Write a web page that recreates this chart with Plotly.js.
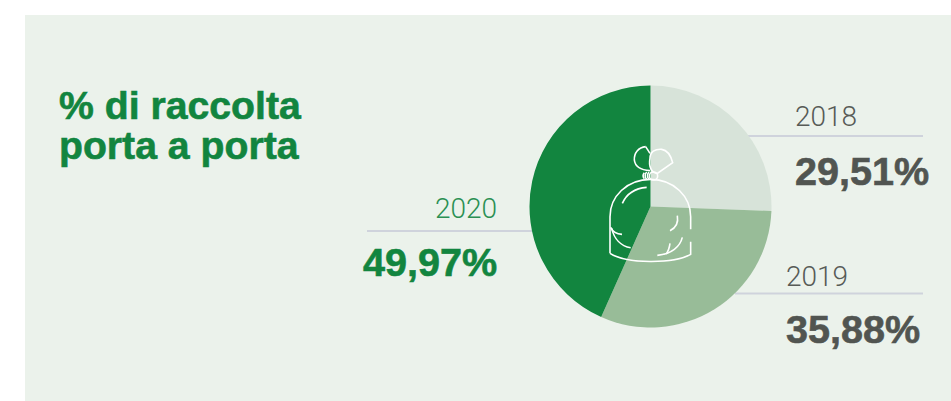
<!DOCTYPE html>
<html>
<head>
<meta charset="utf-8">
<script src="https://cdn.plot.ly/plotly-3.0.1.min.js"></script>
<style>html,body{margin:0;padding:0;background:#fff}#chart{width:951px;height:401px}</style>
</head>
<body>
<div id="chart"></div>
<script>
// Door-to-door collection share by year
const years = ['2018', '2019', '2020'];
const shares = [29.51, 35.88, 49.97];
const sliceColors = ['#D7E3D9', '#98BC98', '#12853F'];
const titleLines = ['% di raccolta', 'porta a porta'];

const W = 951, H = 401;
const PANEL = '#EBF2EB', RULE = '#CFD3DC', GREEN = '#12853F', DARK = '#515551', GREY = '#575B57';
const px = x => x / W;
const py = y => 1 - y / H;

const fmt = v => v.toFixed(2).replace('.', ',') + '%';

// Text placed at a pixel position; anchor "left" or "right", centred vertically on y
function label(text, x, y, size, color, anchor, family, weight) {
  return {
    text, xref: 'paper', yref: 'paper', x: px(x), y: py(y),
    xanchor: anchor, yanchor: 'middle', showarrow: false, borderpad: 0, borderwidth: 0,
    font: {family, size, color, weight}
  };
}
const BOLD = 'Liberation Sans, Arial, sans-serif';
const LIGHT = 'Roboto, Liberation Sans, sans-serif';

const annotations = [
  label(titleLines[0], 59, 105, 39.2, GREEN, 'left', BOLD, 700),
  label(titleLines[1], 59, 145, 39.2, GREEN, 'left', BOLD, 700),
  label(years[0], 795, 117, 28, GREY, 'left', LIGHT, 300),
  label(fmt(shares[0]), 795, 171, 39.6, DARK, 'left', BOLD, 700),
  label(years[1], 786, 276, 28, GREY, 'left', LIGHT, 300),
  label(fmt(shares[1]), 786, 329, 39.6, DARK, 'left', BOLD, 700),
  label(years[2], 497, 209, 28, '#2A9053', 'right', LIGHT, 300),
  label(fmt(shares[2]), 497, 262, 39.6, GREEN, 'right', BOLD, 700)
];

function rule(x0, x1, y) {
  return {type: 'line', xref: 'paper', yref: 'paper', layer: 'below',
    x0: px(x0), x1: px(x1), y0: py(y), y1: py(y), line: {color: RULE, width: 2.2}};
}

// Waste-bag pictogram, drawn in a local 3x grid anchored at (600,140)
const bagPaths = [
  'M30 340 L30 230 C30 170 80 118 152 118 C222 118 272 170 272 230 L272 268',
  'M272 305 L272 343 C220 372 80 372 30 340',
  'M67 190 C80 160 105 145 140 142',
  'M32 262 C38 275 50 282 66 283',
  'M35 265 C42 295 62 318 92 323',
  'M232 227 C236 250 225 265 210 272',
  'M247 292 C240 320 215 342 172 346',
  'M210 310 C208 325 204 335 198 342',
  'M137 20 C115 22 102 40 103 60 C105 78 122 90 150 92',
  'M137 20 L150 40',
  'M150 55 C150 35 165 27 185 28 C200 30 212 45 218 68 L172 100 C155 100 145 80 150 55 Z',
  'M148 108 C148 101 154 96 160 96 C167 96 173 101 173 108 C173 115 167 120 160 120 C154 120 148 115 148 108 Z',
  'M140 118 C134 112 134 102 140 96',
  'M147 118 C141 112 141 102 147 96',
  'M133 116 C128 110 128 104 133 98'
];
const toPaper = p => p.replace(/(-?[\d.]+) (-?[\d.]+)/g, (m, a, b) =>
  px(600 + a / 3).toFixed(5) + ' ' + py(140 + b / 3).toFixed(5)).replace(/([MLC])/g, '$1 ');
const bagShapes = bagPaths.map(p => ({
  type: 'path', xref: 'paper', yref: 'paper', layer: 'above',
  path: toPaper(p), line: {color: '#FFFFFF', width: 1.6}
}));

const panel = {type: 'rect', xref: 'paper', yref: 'paper', layer: 'below',
  x0: px(25), x1: 1, y0: 0, y1: py(15), fillcolor: PANEL, line: {width: 0}};

Plotly.newPlot('chart', [{
  type: 'pie',
  labels: years,
  values: shares,
  sort: false,
  direction: 'clockwise',
  rotation: 0,
  textinfo: 'none',
  hoverinfo: 'label+percent',
  marker: {colors: sliceColors, line: {width: 0}},
  domain: {x: [px(529.5), px(771.5)], y: [py(327.5), py(85.5)]},
  showlegend: false
}], {
  width: W, height: H,
  margin: {l: 0, r: 0, t: 0, b: 0},
  paper_bgcolor: '#FFFFFF',
  showlegend: false,
  shapes: [panel, rule(748, 923, 136), rule(735, 923, 293.5), rule(367, 532, 231), ...bagShapes],
  annotations
}, {displayModeBar: false, staticPlot: true}).then(() => {
  // Thicken the bold labels slightly for a heavier display weight
  document.querySelectorAll('.annotation-text').forEach(el => {
    if (String(el.style.fontWeight) === '700') {
      el.style.stroke = el.style.fill;
      el.style.strokeWidth = '0.6px';
    }
  });
});
</script>
</body>
</html>
